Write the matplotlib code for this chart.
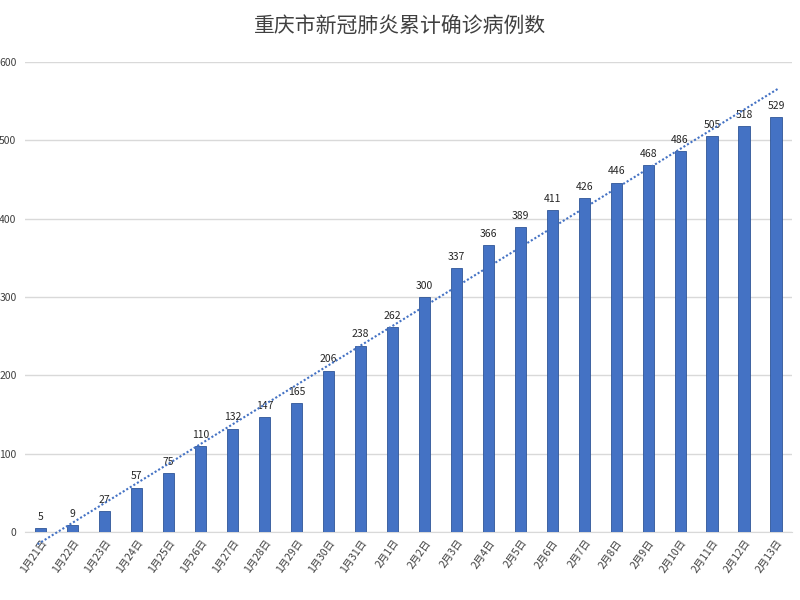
import numpy as np
import matplotlib.pyplot as plt

plt.rcParams['font.family'] = ['Noto Sans CJK SC', 'DejaVu Sans']

dates = ['1月21日', '1月22日', '1月23日', '1月24日', '1月25日', '1月26日', '1月27日',
         '1月28日', '1月29日', '1月30日', '1月31日', '2月1日', '2月2日', '2月3日',
         '2月4日', '2月5日', '2月6日', '2月7日', '2月8日', '2月9日', '2月10日',
         '2月11日', '2月12日', '2月13日']
cases = [5, 9, 27, 57, 75, 110, 132, 147, 165, 206, 238, 262, 300, 337,
         366, 389, 411, 426, 446, 468, 486, 505, 518, 529]

x = np.arange(len(dates))

fig = plt.figure(figsize=(8, 6), dpi=100)
ax = fig.add_axes([0.031, 0.113, 0.959, 0.784])

ax.bar(x, cases, width=0.35, color='#4472C4', edgecolor='#2F5597',
       linewidth=0.6, zorder=3)

for xi, v in zip(x, cases):
    ax.text(xi, v + 8, str(v), ha='center', va='bottom', fontsize=7.5,
            color='#262626')

# linear trendline
k, b = np.polyfit(x, cases, 1)
xt = np.array([x[0] - 0.1, x[-1] + 0.1])
ax.plot(xt, k * xt + b, linestyle=(0, (1, 1)), color='#4472C4',
        linewidth=1.5, zorder=4, clip_on=False)

ax.set_xlim(-0.5, len(dates) - 0.5)
ax.set_ylim(0, 600)
ax.set_yticks(range(0, 601, 100))
ax.yaxis.grid(True, color='#D9D9D9', linewidth=1, zorder=0)
ax.set_axisbelow(True)

ax.set_xticks(x)
ax.set_xticklabels(dates, rotation=55, ha='right', rotation_mode='anchor',
                   fontsize=7.5, color='#404040')
ax.tick_params(axis='y', length=0, labelsize=7.5, labelcolor='#404040', pad=6)
ax.tick_params(axis='x', length=0, pad=4)

for s in ['top', 'right', 'left']:
    ax.spines[s].set_visible(False)
ax.spines['bottom'].set_color('#D9D9D9')

fig.text(0.5, 0.955, '重庆市新冠肺炎累计确诊病例数', ha='center', va='center',
         fontsize=15, color='#404040')

plt.savefig('out.png')
